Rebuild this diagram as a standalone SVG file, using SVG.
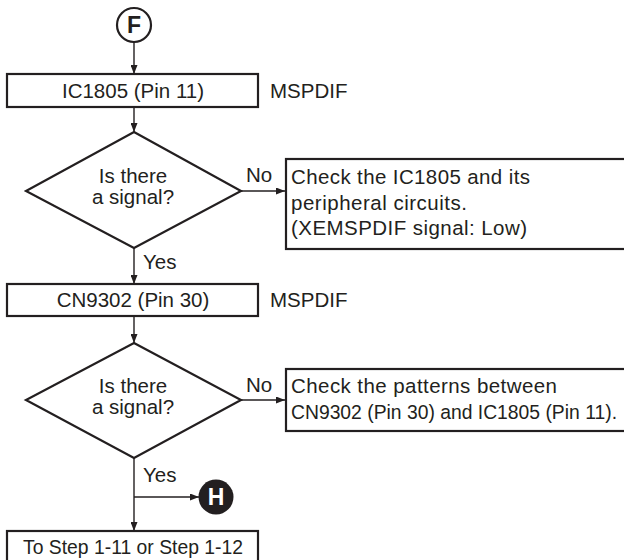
<svg xmlns="http://www.w3.org/2000/svg" width="624" height="560" viewBox="0 0 624 560">
<style>
.box{fill:#fff;stroke:#231f20;stroke-width:2.2}
.dia{fill:#fff;stroke:#231f20;stroke-width:2.2}
.ln{fill:none;stroke:#231f20;stroke-width:1.4}
text{font-family:"Liberation Sans",Arial,sans-serif;font-size:20.5px;fill:#231f20}
.c{text-anchor:middle}
.b{font-weight:bold;font-size:23px}
</style>
<defs>
<marker id="ah" markerWidth="9" markerHeight="7" refX="9" refY="3.5" orient="auto" markerUnits="userSpaceOnUse">
<path d="M0,0 L9,3.5 L0,7 Z" fill="#231f20"/>
</marker>
</defs>
<rect width="624" height="560" fill="#fff"/>
<g id="connectors">
<line class="ln" x1="134" y1="42" x2="134" y2="74" marker-end="url(#ah)"/>
<line class="ln" x1="134" y1="107" x2="134" y2="132" marker-end="url(#ah)"/>
<line class="ln" x1="241" y1="191" x2="285" y2="191" marker-end="url(#ah)"/>
<line class="ln" x1="134" y1="248" x2="134" y2="284" marker-end="url(#ah)"/>
<line class="ln" x1="134" y1="316" x2="134" y2="343" marker-end="url(#ah)"/>
<line class="ln" x1="241" y1="400" x2="285" y2="400" marker-end="url(#ah)"/>
<line class="ln" x1="134" y1="458" x2="134" y2="531" marker-end="url(#ah)"/>
<line class="ln" x1="134" y1="497" x2="199" y2="497" marker-end="url(#ah)"/>
<text x="246" y="182">No</text>
<text x="143" y="269">Yes</text>
<text x="246" y="392">No</text>
<text x="143" y="482">Yes</text>
</g>
<g id="conn-F">
<circle cx="134" cy="25" r="17" fill="#fff" stroke="#231f20" stroke-width="2.2"/>
<text class="c b" x="134" y="33">F</text>
</g>
<g id="box-ic1805">
<rect class="box" x="7" y="74" width="251" height="33"/>
<text class="c" x="133" y="98">IC1805 (Pin 11)</text>
<text x="270" y="98">MSPDIF</text>
</g>
<g id="dec-1">
<polygon class="dia" points="134,132 241,191 134,248 26,191"/>
<text class="c" x="133" y="183">Is there</text>
<text class="c" x="133" y="204">a signal?</text>
</g>
<g id="check-1">
<rect class="box" x="286" y="159" width="350" height="90"/>
<text x="291" y="184" textLength="239">Check the IC1805 and its</text>
<text x="291" y="210" textLength="176">peripheral circuits.</text>
<text x="291" y="235" textLength="236">(XEMSPDIF signal: Low)</text>
</g>
<g id="box-cn9302">
<rect class="box" x="7" y="284" width="251" height="32"/>
<text class="c" x="133" y="307">CN9302 (Pin 30)</text>
<text x="270" y="307">MSPDIF</text>
</g>
<g id="dec-2">
<polygon class="dia" points="134,343 241,400 134,458 26,400"/>
<text class="c" x="133" y="393">Is there</text>
<text class="c" x="133" y="414">a signal?</text>
</g>
<g id="check-2">
<rect class="box" x="286" y="369" width="350" height="62"/>
<text x="291" y="393" textLength="266">Check the patterns between</text>
<text x="291" y="419" textLength="326" lengthAdjust="spacingAndGlyphs">CN9302 (Pin 30) and IC1805 (Pin 11).</text>
</g>
<g id="conn-H">
<circle cx="216" cy="497" r="17.5" fill="#231f20"/>
<text class="c b" x="216" y="505" style="fill:#fff">H</text>
</g>
<g id="box-step">
<rect class="box" x="7" y="531" width="251" height="40"/>
<text class="c" x="133" y="554" textLength="220" lengthAdjust="spacingAndGlyphs">To Step 1-11 or Step 1-12</text>
</g>
</svg>
